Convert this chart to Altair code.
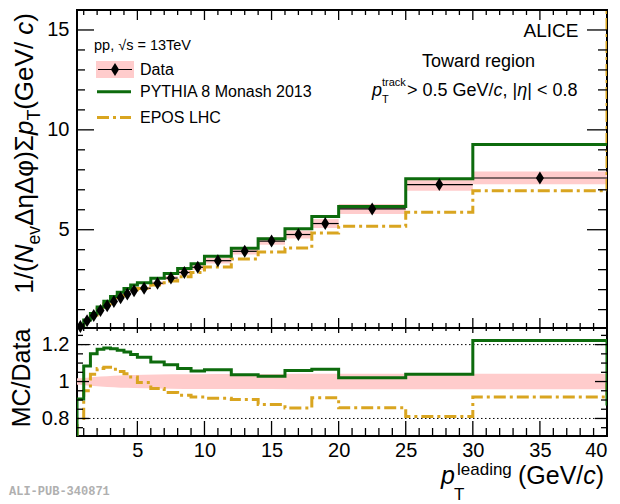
import altair as alt
import pandas as pd

# ---------------- data ----------------
bin_lo = [0.5, 1.0, 1.5, 2.0, 2.5, 3.0, 3.5, 4.0, 4.5, 5, 6, 7, 8, 9, 10, 12, 14, 16, 18, 20, 25, 30]
bin_hi = [1.0, 1.5, 2.0, 2.5, 3.0, 3.5, 4.0, 4.5, 5.0, 6, 7, 8, 9, 10, 12, 14, 16, 18, 20, 25, 30, 40]
data_val = [0.15, 0.44, 0.70, 0.96, 1.20, 1.41, 1.60, 1.78, 1.95, 2.07, 2.32, 2.58, 2.86, 3.12,
            3.45, 3.92, 4.43, 4.76, 5.31, 6.04, 7.26, 7.59]
data_rel_sys = [0.018, 0.021, 0.024, 0.027, 0.029, 0.031, 0.033, 0.034, 0.035, 0.037, 0.038,
                0.039, 0.040, 0.040, 0.041, 0.041, 0.041, 0.042, 0.042, 0.042, 0.042, 0.042]
pythia_val = [0.14, 0.48, 0.81, 1.13, 1.42, 1.66, 1.87, 2.06, 2.23, 2.34, 2.57, 2.81, 3.06, 3.30,
              3.67, 4.07, 4.55, 5.05, 5.66, 6.16, 7.55, 9.27]
epos_val = [0.12, 0.42, 0.73, 1.03, 1.29, 1.50, 1.69, 1.85, 2.00, 2.06, 2.23, 2.43, 2.65, 2.86,
            3.14, 3.54, 3.88, 4.08, 4.84, 5.18, 5.88, 6.95]
pythia_ratio = [0.906, 1.084, 1.151, 1.175, 1.182, 1.178, 1.169, 1.160, 1.146, 1.131, 1.106,
                1.091, 1.070, 1.057, 1.064, 1.037, 1.028, 1.060, 1.066, 1.020, 1.040, 1.222]
epos_ratio = [0.800, 0.950, 1.040, 1.070, 1.078, 1.066, 1.055, 1.042, 1.024, 0.995, 0.962,
              0.940, 0.926, 0.916, 0.910, 0.903, 0.876, 0.857, 0.912, 0.858, 0.810, 0.916]
epos_top_overflow = 16.5
pythia_ratio_overflow = 0.87
epos_ratio_overflow = 1.01

x_major = [5, 10, 15, 20, 25, 30, 35, 40]
top_y_major = [5, 10, 15]
ratio_y_major = [0.8, 1.0, 1.2]
ratio_y_minor = [0.75, 0.85, 0.9, 0.95, 1.05, 1.1, 1.15, 1.25]
ratio_ref_lines = [0.8, 1.2]

# ---------------- styling ----------------
FONT = "Liberation Sans"
GREEN = "#0d6b0d"
ORANGE = "#d9a520"
PINK = "#ffcccc"
DASHDOT = [12, 4, 3, 4]
DIAMOND = "M0,-1L0.62,0L0,1L-0.62,0Z"
W, H1, H2 = 530, 318, 108

xscale = alt.Scale(domain=[0.5, 40], nice=False, zero=False)
y1scale = alt.Scale(domain=[0.08, 16.0], nice=False, zero=False)
y2scale = alt.Scale(domain=[0.705, 1.29], nice=False, zero=False)

xaxis_bottom = alt.Axis(values=x_major, labelPadding=4, title=None, ticks=False, domain=False,
                        grid=False, labelFontSize=20, labelFont=FONT, labelColor="black")
yaxis_top = alt.Axis(values=top_y_major, labelPadding=8, title=None, ticks=False, domain=False,
                     grid=False, labelFontSize=20, labelFont=FONT, labelColor="black")
yaxis_ratio = alt.Axis(values=ratio_y_major, format="~g", labelPadding=8, title=None, ticks=False,
                       domain=False, grid=False, labelFontSize=20, labelFont=FONT, labelColor="black")

AW = {' ': 278, '(': 333, ')': 333, ',': 278, '.': 278, '/': 278, '<': 584, '>': 584, '=': 584,
      '|': 260, 'A': 667, 'C': 722, 'D': 722, 'E': 667, 'G': 778, 'H': 722, 'I': 278, 'L': 556,
      'M': 833, 'N': 722, 'P': 667, 'T': 611, 'V': 667, 'Y': 667, 'a': 556, 'c': 500, 'd': 556,
      'e': 556, 'g': 556, 'h': 556, 'i': 222, 'k': 500, 'l': 222, 'n': 556, 'o': 556, 'p': 556,
      'r': 333, 's': 500, 't': 278, 'v': 500, 'w': 722, 'Δ': 668, 'η': 556, 'φ': 650, 'Σ': 618,
      '√': 549}


def tw(s, fs):
    return sum(AW.get(ch, 556) for ch in s) * fs / 1000.0


def one():
    return pd.DataFrame({"t": [""]})


def txt(s, x, y, size, italic=False, align="left", baseline="alphabetic", angle=0,
        font=FONT, color="black", weight="normal"):
    return alt.Chart(pd.DataFrame({"t": [s]})).mark_text(
        align=align, baseline=baseline, fontSize=size, angle=angle, font=font, color=color,
        fontStyle="italic" if italic else "normal", fontWeight=weight,
    ).encode(x=alt.value(x), y=alt.value(y), text="t:N")


def rich(segs, x0, y0, fs, rotated=False):
    layers, off = [], 0.0
    for s, kind in segs:
        size, shift = fs, 0.0
        if kind == "sub":
            size, shift = fs * 0.68, fs * 0.28
        elif kind == "sup":
            size, shift = fs * 0.68, -fs * 0.42
        italic = kind == "i"
        if rotated:
            layers.append(txt(s, x0 + shift, y0 - off, size, italic, angle=270))
        else:
            layers.append(txt(s, x0 + off, y0 + shift, size, italic))
        off += tw(s, size)
    return layers


def seg_len(segs, fs):
    tot = 0.0
    for s, kind in segs:
        tot += tw(s, fs * 0.68 if kind in ("sub", "sup") else fs)
    return tot


def step_df(vals, start, end):
    xs, ys = [bin_lo[0]], [start]
    for lo, hi, v in zip(bin_lo, bin_hi, vals):
        xs += [lo, hi]
        ys += [v, v]
    if end is not None:
        xs.append(bin_hi[-1])
        ys.append(end)
    return pd.DataFrame({"x": xs, "y": ys, "i": list(range(len(xs)))})


def step_line(vals, start, end, yscale, yaxis, color, dash=None, xaxis=None):
    kw = dict(color=color, strokeWidth=3, clip=True, strokeCap="butt")
    if dash:
        kw["strokeDash"] = dash
    return alt.Chart(step_df(vals, start, end)).mark_line(**kw).encode(
        x=alt.X("x:Q", scale=xscale, axis=xaxis),
        y=alt.Y("y:Q", scale=yscale, axis=yaxis),
        order=alt.Order("i:Q"),
    )


def xticks(vals, y0, y1, yscale, yaxis, xaxis):
    return alt.Chart(pd.DataFrame({"v": vals})).mark_rule(color="black", strokeWidth=1.3).encode(
        x=alt.X("v:Q", scale=xscale, axis=xaxis), y=alt.value(y0), y2=alt.value(y1))


def yticks(vals, x0, x1, yscale, yaxis, xaxis):
    return alt.Chart(pd.DataFrame({"v": vals})).mark_rule(color="black", strokeWidth=1.3).encode(
        y=alt.Y("v:Q", scale=yscale, axis=yaxis), x=alt.value(x0), x2=alt.value(x1))


# ---------------- top panel ----------------
centers = [(l + h) / 2 for l, h in zip(bin_lo, bin_hi)]
bins = pd.DataFrame({
    "lo": bin_lo, "hi": bin_hi, "c": centers, "val": data_val,
    "s_lo": [v * (1 - r) for v, r in zip(data_val, data_rel_sys)],
    "s_hi": [v * (1 + r) for v, r in zip(data_val, data_rel_sys)],
})

top_layers = []
top_layers.append(alt.Chart(bins).mark_rect(color=PINK).encode(
    x=alt.X("lo:Q", scale=xscale, axis=None), x2="hi:Q",
    y=alt.Y("s_lo:Q", scale=y1scale, axis=yaxis_top), y2="s_hi:Q"))
top_layers.append(alt.Chart(bins).mark_rule(color="black", strokeWidth=1.2).encode(
    x=alt.X("lo:Q", scale=xscale, axis=None), x2="hi:Q",
    y=alt.Y("val:Q", scale=y1scale, axis=yaxis_top)))
top_layers.append(step_line(epos_val, 0.08, epos_top_overflow, y1scale, yaxis_top, ORANGE, DASHDOT))
top_layers.append(step_line(pythia_val, 0.08, None, y1scale, yaxis_top, GREEN))
top_layers.append(alt.Chart(bins).mark_point(shape=DIAMOND, size=169, filled=True, color="black",
                                             opacity=1, strokeWidth=0).encode(
    x=alt.X("c:Q", scale=xscale, axis=None),
    y=alt.Y("val:Q", scale=y1scale, axis=yaxis_top)))

# inward ticks
x_minor = [v for v in range(1, 40) if v % 5 != 0]
x_maj_in = [5, 10, 15, 20, 25, 30, 35]
t_minor = [v for v in range(1, 16) if v % 5 != 0]
top_layers += [
    xticks(x_minor, H1, H1 - 5, y1scale, yaxis_top, None),
    xticks(x_maj_in, H1, H1 - 10, y1scale, yaxis_top, None),
    xticks(x_minor, 0, 5, y1scale, yaxis_top, None),
    xticks(x_maj_in, 0, 10, y1scale, yaxis_top, None),
    yticks(t_minor, 0, 8, y1scale, yaxis_top, None),
    yticks(top_y_major, 0, 17, y1scale, yaxis_top, None),
    yticks(t_minor, W, W - 9, y1scale, yaxis_top, None),
    yticks(top_y_major, W, W - 20, y1scale, yaxis_top, None),
]

# legend
top_layers.append(alt.Chart(one()).mark_rect(color=PINK).encode(
    x=alt.value(19), x2=alt.value(57), y=alt.value(51), y2=alt.value(68)))
top_layers.append(alt.Chart(one()).mark_rule(color="black", strokeWidth=1.2).encode(
    x=alt.value(21), x2=alt.value(55), y=alt.value(59.5)))
top_layers.append(alt.Chart(one()).mark_point(shape=DIAMOND, size=169, filled=True, color="black",
                                              opacity=1, strokeWidth=0).encode(
    x=alt.value(38), y=alt.value(59.5)))
top_layers.append(alt.Chart(one()).mark_rule(color=GREEN, strokeWidth=3).encode(
    x=alt.value(20), x2=alt.value(54), y=alt.value(81.7)))
top_layers.append(alt.Chart(one()).mark_rule(color=ORANGE, strokeWidth=3, strokeDash=DASHDOT,
                                             strokeCap="butt").encode(
    x=alt.value(20), x2=alt.value(54), y=alt.value(107.5)))
top_layers.append(txt("pp, √s = 13TeV", 17, 36, 14.5, baseline="middle"))
top_layers.append(txt("Data", 63, 59.5, 16, baseline="middle"))
top_layers.append(txt("PYTHIA 8 Monash 2013", 63, 81.7, 16, baseline="middle"))
top_layers.append(txt("EPOS LHC", 63, 107.5, 16, baseline="middle"))

# right-hand annotations
top_layers.append(txt("ALICE", 501.5, 21, 19, align="right", baseline="middle"))
top_layers.append(txt("Toward region", 401.5, 52, 18, align="center", baseline="middle"))
top_layers.append(txt("p", 295, 86, 18, italic=True))
top_layers.append(txt("track", 305, 76, 11))
top_layers.append(txt("T", 305, 93, 11))
top_layers += rich([("> 0.5 GeV/", "n"), ("c", "i"), (", |", "n"), ("η", "i"), ("| < 0.8", "n")],
                   330, 86, 18)

# y-axis title (rotated, aligned to the top end)
ytitle = [("1/(", "n"), ("N", "i"), ("ev", "sub"), ("ΔηΔφ)Σ", "n"), ("p", "i"), ("T", "sub"),
          (" (GeV/", "n"), ("c", "i"), (")", "n")]
YT_FS = 26
top_layers += rich(ytitle, -44, 3 + seg_len(ytitle, YT_FS), YT_FS, rotated=True)

top = alt.layer(*top_layers).properties(width=W, height=H1)

# ---------------- ratio panel ----------------
band = pd.DataFrame({
    "x": [bin_lo[0]] + centers + [bin_hi[-1]],
    "lo": [1 - data_rel_sys[0]] + [1 - r for r in data_rel_sys] + [1 - data_rel_sys[-1]],
    "hi": [1 + data_rel_sys[0]] + [1 + r for r in data_rel_sys] + [1 + data_rel_sys[-1]],
})

bot_layers = []
bot_layers.append(alt.Chart(band).mark_area(color=PINK, opacity=1).encode(
    x=alt.X("x:Q", scale=xscale, axis=xaxis_bottom),
    y=alt.Y("lo:Q", scale=y2scale, axis=yaxis_ratio), y2="hi:Q"))
bot_layers.append(alt.Chart(pd.DataFrame({"v": ratio_ref_lines})).mark_rule(
    color="black", strokeWidth=1, strokeDash=[1.5, 2.5]).encode(
    y=alt.Y("v:Q", scale=y2scale, axis=yaxis_ratio), x=alt.value(0), x2=alt.value(W)))
bot_layers.append(step_line(epos_ratio, 0.705, epos_ratio_overflow, y2scale, yaxis_ratio, ORANGE,
                            DASHDOT, xaxis_bottom))
bot_layers.append(step_line(pythia_ratio, 0.705, pythia_ratio_overflow, y2scale, yaxis_ratio, GREEN,
                            None, xaxis_bottom))
bot_layers += [
    xticks(x_minor, H2, H2 - 8, y2scale, yaxis_ratio, xaxis_bottom),
    xticks(x_maj_in, H2, H2 - 15, y2scale, yaxis_ratio, xaxis_bottom),
    xticks(x_minor, 0, 3, y2scale, yaxis_ratio, xaxis_bottom),
    xticks(x_maj_in, 0, 5, y2scale, yaxis_ratio, xaxis_bottom),
    yticks(ratio_y_minor, 0, 6, y2scale, yaxis_ratio, xaxis_bottom),
    yticks(ratio_y_major, 0, 12, y2scale, yaxis_ratio, xaxis_bottom),
    yticks(ratio_y_minor, W, W - 6, y2scale, yaxis_ratio, xaxis_bottom),
    yticks(ratio_y_major, W, W - 12, y2scale, yaxis_ratio, xaxis_bottom),
]

# x-axis title p_T^leading (GeV/c), right aligned
bot_layers.append(txt("p", 364, 156, 25, italic=True))
bot_layers.append(txt("T", 377, 172, 17))
bot_layers.append(txt("leading", 380, 147, 17))
bot_layers += rich([("(GeV/", "n"), ("c", "i"), (")", "n")], 441, 156, 25)

# MC/Data title
bot_layers.append(txt("MC/Data", -47, 50, 25, align="center", angle=270))
# publication tag
bot_layers.append(txt("ALI-PUB-340871", -68, 163, 12, baseline="middle",
                      font="Liberation Mono", color="#b0b0b0", weight="bold"))

bottom = alt.layer(*bot_layers).properties(width=W, height=H2)

chart = alt.vconcat(top, bottom, spacing=0, bounds="flush").properties(
    padding={"left": 0, "top": 0, "right": 0, "bottom": 0}
).configure_view(stroke="black", strokeWidth=2)

chart.save("out.html", embed_options={"renderer": "svg", "actions": False})
